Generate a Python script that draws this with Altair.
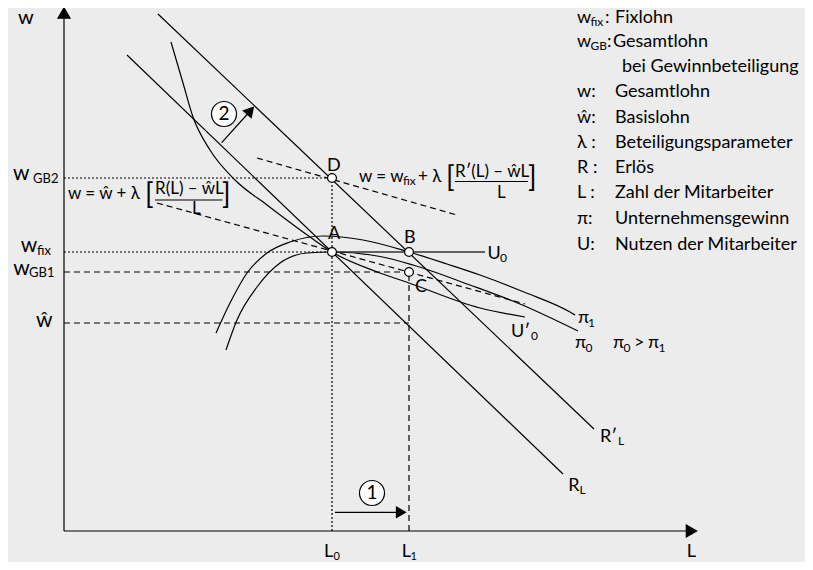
import altair as alt
import pandas as pd

# ---------------- diagram values (L to the right, w upward) ----------------
L0, L1 = 268, 345
W_GB2, W_FIX, W_GB1, W_HAT = 353, 279, 259, 208
L_AXIS_END, W_AXIS_END = 623, 512

pts_name = ["A", "B", "C", "D"]
pts_L = [L0, L1, L1, L0]
pts_w = [W_FIX, W_FIX, W_GB1, W_GB2]

# revenue lines R_L and R'_L
RL_L = [63, 499]
RL_w = [476, 57]
RL2_L = [94, 530]
RL2_w = [517, 102]

# iso-profit curves pi_1, pi_0 and indifference curve U'_0
pi1_L = [152, 166, 183, 203, 226, 259, 299, 345, 383, 416, 460, 506, 511]
pi1_w = [198, 228, 258, 278, 289, 295, 291, 279, 267, 256, 239, 219, 216]
pi0_L = [162, 173, 193, 216, 243, 268, 316, 349, 406, 456, 514]
pi0_w = [181, 211, 244, 268, 278, 279, 274.5, 266, 246, 227, 200]
U0p_L = [107, 119, 129, 146, 171, 203, 246, 268, 316, 345, 416, 461]
U0p_w = [489, 448, 414, 381, 351, 326, 294, 279, 258, 248, 223, 214]

# wage lines with profit sharing (dashed)
lowdash_L = [93, 461]
lowdash_w = [328, 227]
updash_L = [193, 393]
updash_w = [373, 316]
U0_L = [L0, 421]

legend_sym = ["w", "w", "", "w:", "ŵ:", "λ :", "R :", "L :", "π:", "U:"]
legend_sub = ["fix", "GB", "", "", "", "", "", "", "", ""]
legend_txt = ["Fixlohn", "Gesamtlohn", "bei Gewinnbeteiligung", "Gesamtlohn",
              "Basislohn", "Beteiligungsparameter", "Erlös",
              "Zahl der Mitarbeiter", "Unternehmensgewinn",
              "Nutzen der Mitarbeiter"]

# ---------------- build tables ----------------
rows = []


def add(id_, Ls, ws, style):
    for i, (a, b) in enumerate(zip(Ls, ws)):
        rows.append(dict(id=id_, i=i, L=a, w=b, style=style))


add("yaxis", [0, 0], [0, W_AXIS_END], "solid")
add("xaxis", [0, L_AXIS_END], [0, 0], "solid")
add("RL", RL_L, RL_w, "solid")
add("RL2", RL2_L, RL2_w, "solid")
add("arr1", [271, 332], [18.7, 18.7], "solid")
add("arr2", [157.7, 183.5], [388.3, 417], "solid")
add("frac1", [391, 464], [349.5, 349.5], "solid")
add("frac2", [91, 158.5], [331, 331], "solid")
add("pi1", pi1_L, pi1_w, "curve")
add("pi0", pi0_L, pi0_w, "curve")
add("U0p", U0p_L, U0p_w, "curve")
add("U0", U0_L, [W_FIX, W_FIX], "u0")
add("lowdash", lowdash_L, lowdash_w, "dash")
add("updash", updash_L, updash_w, "dash")
add("gb1", [0, L1], [W_GB1, W_GB1], "dash")
add("what", [0, L1], [W_HAT, W_HAT], "dash")
add("l1", [L1, L1], [0, W_GB1], "dash")
add("gb2", [0, L0], [W_GB2, W_GB2], "dot")
add("wfix", [0, L0], [W_FIX, W_FIX], "dot")
add("l0", [L0, L0], [0, W_GB2], "dot")
lines = pd.DataFrame(rows)

texts = [
    ("w", -46, 507, 20),
    ("L", 622.7, -26, 18),
    ("L", 260, -26, 18), ("0", 269.5, -28.5, 11),
    ("L", 337.7, -26, 18), ("1", 346.5, -28.5, 11),
    ("w", -51, 351, 21), ("GB2", -31, 348, 13),
    ("w", -43.3, 279, 21), ("fix", -27, 276.5, 13),
    ("w", -50.7, 256.5, 21), ("GB1", -35, 254, 13),
    ("ŵ", -28, 204, 21),
    ("A", 264, 292, 18), ("B", 340, 288.5, 18),
    ("C", 351, 239.5, 18), ("D", 263, 360, 18),
    ("U", 423.5, 272, 18), ("0", 436, 269, 12),
    ("U′", 447, 194, 18), ("0", 467, 191.5, 12),
    ("π", 514, 208, 18), ("1", 524, 204, 12),
    ("π", 511, 183, 18), ("0", 521.5, 179, 12),
    ("π", 549, 183, 18), ("0", 559.5, 179, 12), (">", 570, 183, 18),
    ("π", 584, 183, 18), ("1", 594.5, 179, 12),
    ("R′", 536, 89, 18), ("L", 554, 86, 12),
    ("R", 504.3, 40, 18), ("L", 515.5, 37, 12),
    ("w = w", 295, 349.5, 17), ("fix", 339, 346, 12), ("+ λ", 354, 349.5, 17),
    ("[", 382, 344, 28), ("R′(L) – ŵL", 391, 354.5, 17), ("L", 433, 333, 17),
    ("]", 464, 344, 28),
    ("w = ŵ + λ", 4, 332, 17), ("[", 81, 327.5, 28),
    ("R(L) – ŵL", 91, 337.5, 17), ("L", 128, 317.5, 17), ("]", 158, 327.5, 28),
]
leg_base = [508, 484, 459, 434, 408.5, 383, 358, 333, 307.5, 281]
for k in range(len(legend_txt)):
    if legend_sym[k]:
        texts.append((legend_sym[k], 513, leg_base[k], 18))
    if legend_sub[k]:
        texts.append((legend_sub[k], 526.5, leg_base[k] - 3, 12))
        texts.append((":", 541 if legend_sub[k] == "fix" else 543, leg_base[k], 18))
    tx = 551
    if k == 1:
        tx = 549
    if k == 2:
        tx = 558
    texts.append((legend_txt[k], tx, leg_base[k], 18))
tdf = pd.DataFrame(texts, columns=["t", "L", "w", "s"])

marks = pd.DataFrame([
    dict(L=0, w=518, shape="triangle-up", ang=0, sz=144, fill="black"),
    dict(L=627.5, w=0, shape="triangle-right", ang=0, sz=144, fill="black"),
    dict(L=337, w=18.7, shape="triangle-right", ang=0, sz=110, fill="black"),
    dict(L=186.3, w=420.2, shape="triangle-up", ang=42, sz=110, fill="black"),
    dict(L=308, w=38, shape="circle", ang=0, sz=625, fill="white"),
    dict(L=160, w=417, shape="circle", ang=0, sz=625, fill="white"),
] + [dict(L=a, w=b, shape="circle", ang=0, sz=78, fill="white") for a, b in zip(pts_L, pts_w)])

digits = pd.DataFrame(dict(t=["1", "2"], L=[308, 160], w=[38, 417]))

# ---------------- chart ----------------
xs = alt.Scale(domain=[-56, 741], nice=False, zero=False)
ys = alt.Scale(domain=[-31, 523], nice=False, zero=False)
X = alt.X("L:Q", scale=xs, axis=None)
Y = alt.Y("w:Q", scale=ys, axis=None)
FONT = "Lato"


def line_layer(style, **kw):
    return alt.Chart(lines[lines["style"] == style]).mark_line(**kw).encode(
        x=X, y=Y, detail="id:N", order="i:Q")


solid = line_layer("solid", color="black", strokeWidth=1.2)
curves = line_layer("curve", color="black", strokeWidth=1.2, interpolate="monotone")
u0 = line_layer("u0", color="#333333", strokeWidth=1.6)
dash = line_layer("dash", color="black", strokeWidth=1.2, strokeDash=[6, 4])
dot = line_layer("dot", color="black", strokeWidth=1.2, strokeDash=[2, 2])

pointmarks = alt.Chart(marks).mark_point(filled=True, stroke="black", strokeWidth=1.2, opacity=1).encode(
    x=X, y=Y,
    shape=alt.Shape("shape:N", scale=None),
    angle=alt.Angle("ang:Q", scale=None),
    size=alt.Size("sz:Q", scale=None),
    color=alt.Color("fill:N", scale=None),
)

labels = alt.Chart(tdf).mark_text(align="left", baseline="alphabetic", font=FONT, color="black").encode(
    x=X, y=Y, text="t:N", size=alt.Size("s:Q", scale=None))

dig = alt.Chart(digits).mark_text(align="center", baseline="middle", font=FONT, fontSize=19, color="black").encode(
    x=X, y=Y, text="t:N")

chart = alt.layer(solid, curves, u0, dash, dot, pointmarks, labels, dig).properties(
    width=797, height=554, padding=0,
    autosize=alt.AutoSizeParams(type="none"),
    background="#ececec",
).configure_view(stroke=None)

chart.save("out.html", embed_options={"renderer": "svg", "actions": False})
